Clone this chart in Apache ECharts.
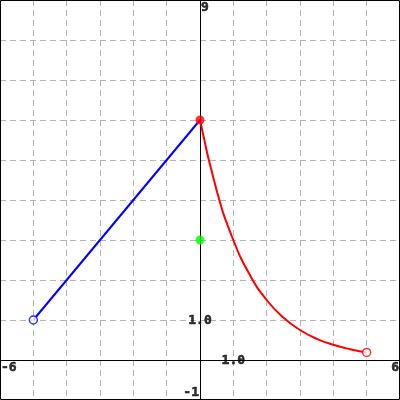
<!DOCTYPE html>
<html>
<head>
<meta charset="utf-8">
<script src="https://cdn.jsdelivr.net/npm/echarts@6/dist/echarts.min.js"></script>
<style>
  html, body { margin: 0; padding: 0; background: #fff; }
  #chart { width: 400px; height: 400px; }
</style>
</head>
<body>
<div id="chart"></div>
<script>
// line segment (blue)
var blueX = [-5, 0];
var blueY = [1, 6];

// decaying curve (red)
var redX = [0, 0.5, 1, 1.5, 2, 2.5, 3, 3.5, 4, 4.5, 5];
var redY = [6, 4.24, 3, 2.12, 1.5, 1.06, 0.75, 0.53, 0.38, 0.27, 0.19];

// single point (green)
var greenPt = [0, 3];

// axis range
var xMin = -6, xMax = 6, yMin = -1, yMax = 9;

// tick labels: [x, y, text]
var tickLabels = [
    [0, 9, '9'],
    [-6, 0, '-6'],
    [6, 0, '6'],
    [0, -1, '-1'],
    [0, 1, '1.0'],
    [1, 0, '1.0']
];
// where each label sits round its point
var labelPlace = [
    {position: [1, 1], align: 'left', verticalAlign: 'top'},
    {position: [1, 1], align: 'left', verticalAlign: 'top'},
    {position: [-1, 1], align: 'right', verticalAlign: 'top'},
    {position: [-1, -1], align: 'right', verticalAlign: 'bottom'},
    {position: [0, 1], align: 'center', verticalAlign: 'middle'},
    {position: [0, 1], align: 'center', verticalAlign: 'middle'}
];

var myChart = echarts.init(document.getElementById('chart'));

function zip(xs, ys) {
    return xs.map(function (x, i) { return [x, ys[i]]; });
}

var gridLine = { show: true, lineStyle: { color: '#b4b4b4', type: [6, 4], width: 1 } };

var option = {
    animation: false,
    grid: { left: 0, right: 0, top: 0, bottom: 0 },
    // outer frame
    graphic: [{
        type: 'rect', z: 100, silent: true,
        shape: { x: 0.5, y: 0.5, width: 399, height: 399 },
        style: { fill: null, stroke: '#000', lineWidth: 1 }
    }],
    xAxis: {
        type: 'value', min: xMin, max: xMax, interval: 1,
        axisLine: { onZero: true, lineStyle: { color: '#000', width: 1 } },
        axisTick: { show: false },
        axisLabel: { show: false },
        splitLine: gridLine
    },
    yAxis: {
        type: 'value', min: yMin, max: yMax, interval: 1,
        axisLine: { show: true, onZero: true, lineStyle: { color: '#000', width: 1 } },
        axisTick: { show: false },
        axisLabel: { show: false },
        splitLine: gridLine
    },
    series: [
        {
            type: 'line', data: zip(blueX, blueY), symbol: 'none',
            lineStyle: { color: '#0000ff', width: 2 }, z: 3
        },
        {
            type: 'line', data: zip(redX, redY), symbol: 'none', smooth: true,
            lineStyle: { color: '#ff0000', width: 2 }, z: 3
        },
        {
            type: 'scatter', symbolSize: 8, z: 5,
            data: [
                { value: [blueX[0], blueY[0]], itemStyle: { color: '#fff', borderColor: '#0000ff', borderWidth: 1.5 } },
                { value: [redX[redX.length - 1], redY[redY.length - 1]], itemStyle: { color: '#fff', borderColor: '#ff0000', borderWidth: 1.5 } },
                { value: [redX[0], redY[0]], symbolSize: 9, itemStyle: { color: '#ff0000' } },
                { value: greenPt, symbolSize: 9, itemStyle: { color: '#00ff00' } }
            ]
        },
        {
            type: 'scatter', symbolSize: 0, z: 6, silent: true,
            data: tickLabels.map(function (t, i) {
                var p = labelPlace[i];
                return {
                    value: [t[0], t[1]],
                    label: {
                        show: true, formatter: t[2],
                        position: p.position, align: p.align, verticalAlign: p.verticalAlign,
                        color: '#000', fontFamily: 'DejaVu Sans Mono', fontWeight: 'bold', fontSize: 13,
                        textBorderColor: '#000', textBorderWidth: 0.6
                    }
                };
            })
        }
    ]
};

myChart.setOption(option);
</script>
</body>
</html>
